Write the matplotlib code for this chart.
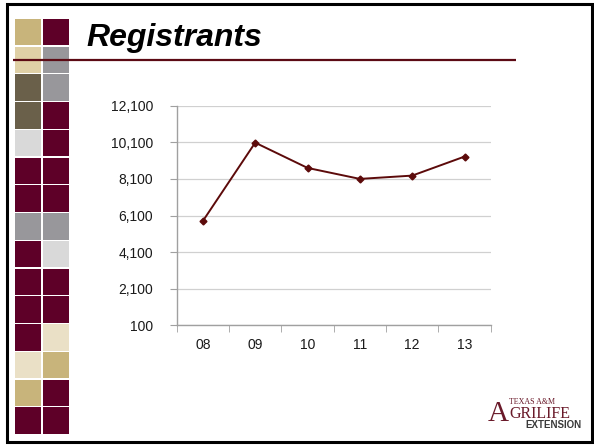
import matplotlib
matplotlib.use("Agg")
import matplotlib.pyplot as plt
from matplotlib.patches import Rectangle
from matplotlib.ticker import FuncFormatter, FixedLocator

# ---- data ----
years = ["08", "09", "10", "11", "12", "13"]
registrants = [5800, 10080, 8700, 8100, 8280, 9320]
y_ticks = [100, 2100, 4100, 6100, 8100, 10100, 12100]

# mosaic colours (left, right) per row
MAROON = "#5E0028"
TAN = "#C8B47B"
LTAN = "#DFD0A6"
OLIVE = "#6A604A"
GRAY = "#98979B"
LGRAY = "#D9D9D9"
CREAM = "#EAE0C6"
mosaic_left = [TAN, LTAN, OLIVE, OLIVE, LGRAY, MAROON, MAROON, GRAY, MAROON,
               MAROON, MAROON, MAROON, CREAM, TAN, MAROON]
mosaic_right = [MAROON, GRAY, GRAY, MAROON, MAROON, MAROON, MAROON, GRAY, LGRAY,
                MAROON, MAROON, CREAM, TAN, MAROON, MAROON]

W, H = 594, 445
fig = plt.figure(figsize=(W / 100, H / 100), dpi=100)
fig.patch.set_facecolor("white")

# background axes in pixel coordinates
bg = fig.add_axes([0, 0, 1, 1])
bg.set_xlim(0, W)
bg.set_ylim(H, 0)
bg.axis("off")

# frame
bg.add_patch(Rectangle((7, 4), 585, 438, fill=False, edgecolor="black", lw=2.2))

# mosaic
row_h = (435 - 19) / 15
for i, (cl, cr) in enumerate(zip(mosaic_left, mosaic_right)):
    y0 = 19 + i * row_h
    bg.add_patch(Rectangle((15, y0), 26.3, row_h - 1.3, facecolor=cl, edgecolor="none"))
    bg.add_patch(Rectangle((42.8, y0), 26.3, row_h - 1.3, facecolor=cr, edgecolor="none"))

# title line and title
bg.plot([13, 516], [60, 60], color="#5C0A14", lw=1.6, solid_capstyle="butt")
bg.text(86, 46, "Registrants", fontsize=23, fontweight="bold", fontstyle="italic",
        family="Liberation Sans", color="black", ha="left", va="baseline")

# logo
LOGO = "#6A1A2A"
bg.text(488, 421, "A", fontsize=21, family="Liberation Serif", color=LOGO,
        ha="left", va="baseline")
bg.text(509, 404.5, "TEXAS A&M", fontsize=5.8, family="Liberation Serif", color=LOGO,
        ha="left", va="baseline")
bg.text(509, 418, "GRILIFE", fontsize=11.5, family="Liberation Serif", color=LOGO,
        ha="left", va="baseline")
bg.text(582, 428.5, "EXTENSION", fontsize=7.0, fontweight="bold", family="Liberation Sans",
        color="#3A3A3A", ha="right", va="baseline")

# chart
ax = fig.add_axes([176.7 / W, 1 - 325.3 / H, (490.7 - 176.7) / W, (325.3 - 105.7) / H])
x = list(range(len(years)))
ax.plot(x, registrants, color="#5C0A0A", lw=1.4, marker="D", markersize=3.5,
        markerfacecolor="#5C0A0A", markeredgecolor="#5C0A0A", zorder=3)
ax.set_xlim(-0.5, len(years) - 0.5)
ax.set_ylim(y_ticks[0], y_ticks[-1])
ax.set_yticks(y_ticks)
ax.yaxis.set_major_formatter(FuncFormatter(lambda v, p: f"{int(v):,}"))
ax.grid(axis="y", color="#D0D0D0", lw=0.9)
ax.set_axisbelow(True)
ax.set_xticks(x)
ax.set_xticklabels(years)
ax.xaxis.set_minor_locator(FixedLocator([i - 0.5 for i in range(len(years) + 1)]))
ax.tick_params(axis="x", which="major", length=0, pad=9)
ax.tick_params(axis="x", which="minor", length=5, color="#A0A0A0", direction="out")
ax.tick_params(axis="y", length=5, color="#A0A0A0", pad=12)
for lab in ax.get_xticklabels() + ax.get_yticklabels():
    lab.set_fontsize(10)
    lab.set_family("Liberation Sans")
    lab.set_color("#1A1A1A")
for s in ["top", "right"]:
    ax.spines[s].set_visible(False)
for s in ["left", "bottom"]:
    ax.spines[s].set_color("#A0A0A0")
    ax.spines[s].set_linewidth(1.0)
ax.set_facecolor("none")

fig.savefig("out.png", dpi=100, facecolor="white")
